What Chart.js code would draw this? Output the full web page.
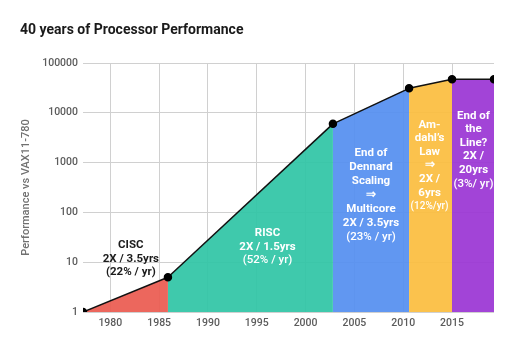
<!DOCTYPE html>
<html>
<head>
<meta charset="utf-8">
<script src="https://cdn.jsdelivr.net/npm/chart.js@4.4.0/dist/chart.umd.min.js"></script>
<style>
  html, body { margin: 0; padding: 0; background: #fff; }
  #wrap { width: 517px; height: 362px; }
</style>
</head>
<body>
<div id="wrap"><canvas id="perf"></canvas></div>
<script>
// data
const YEARS = [1977.2, 1985.9, 2002.8, 2010.6, 2015.0, 2019.3];
const PERF = [1, 5, 6000, 31000, 47000, 47000];
const ERA_COLORS = ['#ea5a4f', '#2fc4a5', '#548ef0', '#fbbd3e', '#9a34d4'];
const X_TICKS = [1980, 1985, 1990, 1995, 2000, 2005, 2010, 2015];
const Y_TICKS = [1, 10, 100, 1000, 10000, 100000];

// era labels: text, where they sit (year, value of first line)
const NOTE_TEXT = [
  ['CISC', '2X / 3.5yrs', '(22% / yr)'],
  ['RISC', '2X / 1.5yrs', '(52% / yr)'],
  ['End of', 'Dennard', 'Scaling', '\u21D2', 'Multicore', '2X / 3.5yrs', '(23% / yr)'],
  ['Am-', 'dahl\u2019s', 'Law', '\u21D2', '2X /', '6yrs', '(12%/yr)'],
  ['End of', 'the', 'Line?', '2X /', '20yrs', '(3%/ yr)']
];
const NOTE_YEAR = [1982.1, 1996.1, 2006.7, 2012.7, 2017.2];
const NOTE_TOP = [22, 38, 1560, 5750, 8700];

const FONT = 'Roboto, "Noto Sans", sans-serif';

function hexAlpha(hex, a) {
  const n = parseInt(hex.slice(1), 16);
  return 'rgba(' + (n >> 16) + ',' + ((n >> 8) & 255) + ',' + (n & 255) + ',' + a + ')';
}

const eraNotes = {
  id: 'eraNotes',
  afterDatasetsDraw(chart) {
    const ctx = chart.ctx;
    const x = chart.scales.x, y = chart.scales.y;
    ctx.save();
    ctx.textAlign = 'center';
    ctx.textBaseline = 'middle';
    NOTE_TEXT.forEach(function(lines, i) {
      const cx = x.getPixelForValue(NOTE_YEAR[i]);
      let cy = y.getPixelForValue(NOTE_TOP[i]);
      const step = i === 2 ? 14 : 13.6;
      ctx.fillStyle = i === 0 ? '#1c1c1c' : '#ffffff';
      lines.forEach(function(txt, j) {
        const last = j === lines.length - 1;
        let size = 11.5;
        if (last && i === 3) size = 10;
        ctx.font = (last && i > 0 ? '500 ' : 'bold ') + size + 'px ' + FONT;
        ctx.fillText(txt, cx, cy);
        cy += step;
      });
    });
    ctx.restore();
  }
};

const data = {
  datasets: [{
    label: 'Performance',
    data: YEARS.map(function(yr, i) { return {x: yr, y: PERF[i]}; }),
    borderColor: '#111',
    borderWidth: 1.5,
    pointRadius: 3.5,
    pointBackgroundColor: '#000',
    pointBorderColor: '#000',
    fill: 'start',
    backgroundColor: hexAlpha(ERA_COLORS[0], 0.92),
    segment: {
      backgroundColor: function(c) { return hexAlpha(ERA_COLORS[c.p0DataIndex], 0.92); }
    },
    tension: 0
  }]
};

const config = {
  type: 'line',
  data: data,
  options: {
    responsive: true,
    maintainAspectRatio: false,
    animation: false,
    layout: { padding: { left: 20, right: 23, top: 0, bottom: 0 } },
    plugins: {
      legend: { display: false },
      tooltip: { enabled: false },
      title: {
        display: true,
        text: '40 years of Processor Performance',
        align: 'start',
        color: '#1a1a1a',
        font: { family: FONT, size: 14, weight: 'bold' },
        padding: { top: 22, bottom: 24.2 }
      }
    },
    scales: {
      x: {
        type: 'linear',
        min: YEARS[0],
        max: YEARS[YEARS.length - 1],
        afterBuildTicks: function(s) { s.ticks = X_TICKS.map(function(v) { return {value: v}; }); },
        afterFit: function(s) { s.height = 50; },
        grid: { color: '#d0d0d0', drawTicks: false },
        border: { display: false },
        ticks: {
          padding: 5,
          color: '#5c5c5c',
          font: { family: FONT, size: 10.5, weight: '500' },
          callback: function(v) { return String(v); }
        }
      },
      y: {
        type: 'logarithmic',
        min: 1,
        max: 100000,
        afterBuildTicks: function(s) { s.ticks = Y_TICKS.map(function(v) { return {value: v}; }); },
        afterFit: function(s) { s.width = 63; },
        grid: { color: '#d0d0d0', drawTicks: false },
        border: { display: false },
        title: {
          display: true,
          text: 'Performance vs VAX11-780',
          color: '#707070',
          font: { family: FONT, size: 11, weight: '500' },
          padding: { top: 0, bottom: 0 }
        },
        ticks: {
          padding: 5,
          color: '#5c5c5c',
          font: { family: FONT, size: 10.5, weight: '500' },
          callback: function(v) { return String(v); }
        }
      }
    }
  },
  plugins: [eraNotes]
};

const chart = new Chart(document.getElementById('perf').getContext('2d'), config);
</script>
</body>
</html>
